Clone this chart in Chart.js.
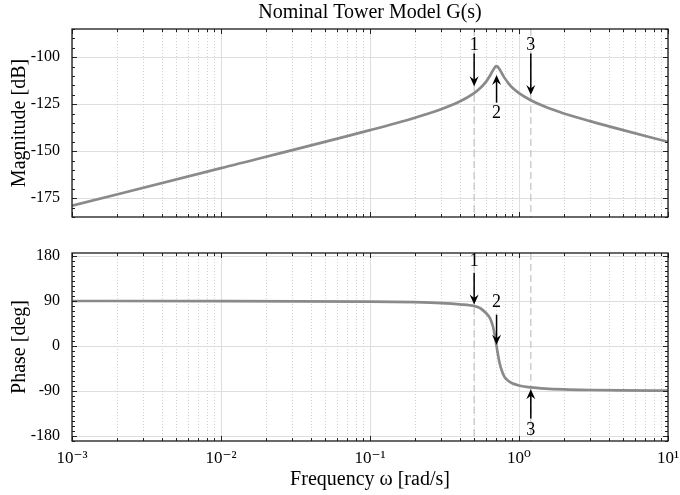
<!DOCTYPE html>
<html><head><meta charset="utf-8">
<script src="https://cdn.jsdelivr.net/npm/chart.js@4.4.1/dist/chart.umd.min.js"></script>
<style>
html,body{margin:0;padding:0;background:#fff;}
#wrap{position:relative;width:680px;height:495px;background:#fff;}
#c1{position:absolute;left:0;top:0;}
#c2{position:absolute;left:0;top:235px;}
</style></head><body>
<div id="wrap"><canvas id="c1" width="680" height="235"></canvas><canvas id="c2" width="680" height="260"></canvas></div>
<script>
// ---- data ----
const omega       = [0.001, 0.01, 0.1, 0.2, 0.3, 0.4, 0.5, 0.55, 0.6, 0.64, 0.67, 0.69, 0.707, 0.72, 0.74, 0.77, 0.8, 0.85, 0.9, 1.0, 1.2, 1.5, 2, 3, 5, 10];
const magnitudeDb = [-179.0, -159.0, -138.8, -132.2, -127.7, -123.6, -119.1, -116.4, -113.1, -109.7, -106.9, -105.3, -104.8, -105.1, -106.4, -108.8, -111.0, -113.9, -116.1, -119.1, -122.9, -126.4, -129.9, -134.0, -138.8, -145.0];
const phaseDeg    = [90.0, 89.9, 88.9, 87.6, 85.9, 83.4, 80.0, 75.5, 66.0, 55.4, 38.0, 19.5, 0.0, -14.7, -33.4, -51.0, -62.0, -70.0, -74.5, -79.0, -82.8, -85.2, -86.8, -88.0, -88.9, -89.4];

const magTicks    = [-175, -150, -125, -100];
const phaseTicks  = [-180, -90, 0, 90, 180];
const xDecades    = [1e-3, 1e-2, 1e-1, 1, 10];
const xTickLabels = ['10⁻³', '10⁻²', '10⁻¹', '10⁰', '10¹'];

const markerLineFreq = [0.5, 1.2];
const arrowFreq      = [0.5, 0.707, 1.2];
const arrowLabels    = ['1', '2', '3'];
const magArrowTail   = [-98.0, -124.2, -98.0];
const magArrowTip    = [-115.4, -109.5, -120.1];
const magLabelAt     = [-93.5, -129.8, -93.5];
const phaseArrowTail = [146.6, 62.7, -145.0];
const phaseArrowTip  = [82.9, 2.4, -86.7];
const phaseLabelAt   = [168.9, 87.3, -168.6];

// ---- styling ----
const FONT = "'Liberation Serif','DejaVu Serif','Times New Roman',serif";
const LINE = '#8a8a8a';
const GRID = '#dedede';

function decadeLabel(v) {
  const i = xDecades.findIndex(d => Math.abs(Math.log10(d) - Math.log10(v)) < 1e-6);
  return i >= 0 ? xTickLabels[i] : '';
}
function minorDecadeValues() {
  const out = [];
  for (let e = -3; e < 1; e++) for (let m = 2; m <= 9; m++) out.push(m * Math.pow(10, e));
  return out;
}
function stepValues(lo, hi, step) {
  const out = [];
  for (let v = Math.ceil(lo / step) * step; v <= hi; v += step) out.push(v);
  return out;
}

const bodePlugin = {
  id: 'bode',
  beforeDatasetsDraw(chart, args, o) {
    const {ctx, chartArea: a, scales: {x}} = chart;
    ctx.save();
    ctx.strokeStyle = '#d2d2d2'; ctx.lineWidth = 1; ctx.setLineDash([1, 2]);
    minorDecadeValues().forEach(v => {
      const px = Math.round(x.getPixelForValue(v)) + 0.5;
      ctx.beginPath(); ctx.moveTo(px, a.top); ctx.lineTo(px, a.bottom); ctx.stroke();
    });
    ctx.strokeStyle = '#c6c6c6'; ctx.lineWidth = 1.3; ctx.setLineDash([7, 4]);
    markerLineFreq.forEach(v => {
      const px = x.getPixelForValue(v);
      ctx.beginPath(); ctx.moveTo(px, a.top); ctx.lineTo(px, a.bottom); ctx.stroke();
    });
    ctx.restore();
  },
  afterDatasetsDraw(chart, args, o) {
    const {ctx, chartArea: a, scales: {x, y}} = chart;
    ctx.save();
    ctx.setLineDash([]);
    ctx.strokeStyle = '#222'; ctx.lineWidth = 1;
    const xt = (v, len) => {
      const px = Math.round(x.getPixelForValue(v)) + 0.5;
      ctx.beginPath(); ctx.moveTo(px, a.top); ctx.lineTo(px, a.top + len);
      ctx.moveTo(px, a.bottom); ctx.lineTo(px, a.bottom - len); ctx.stroke();
    };
    const yt = (v, len) => {
      const py = Math.round(y.getPixelForValue(v)) + 0.5;
      ctx.beginPath(); ctx.moveTo(a.left, py); ctx.lineTo(a.left + len, py);
      ctx.moveTo(a.right, py); ctx.lineTo(a.right - len, py); ctx.stroke();
    };
    minorDecadeValues().forEach(v => xt(v, 3));
    xDecades.forEach(v => xt(v, 5));
    stepValues(y.min, y.max, o.minorStep).forEach(v => yt(v, 3));
    o.majorTicks.forEach(v => yt(v, 5));
    ctx.strokeStyle = '#1a1a1a'; ctx.lineWidth = 1.3;
    ctx.strokeRect(a.left, a.top, a.right - a.left, a.bottom - a.top);
    // arrows with labels
    ctx.strokeStyle = '#000'; ctx.fillStyle = '#000'; ctx.lineWidth = 1.5;
    ctx.font = '18px ' + FONT; ctx.textAlign = 'center'; ctx.textBaseline = 'middle';
    arrowFreq.forEach((f, i) => {
      const px = x.getPixelForValue(f);
      const y0 = y.getPixelForValue(o.tail[i]);
      const y1 = y.getPixelForValue(o.tip[i]);
      const dir = Math.sign(y1 - y0);
      ctx.beginPath(); ctx.moveTo(px, y0); ctx.lineTo(px, y1 - dir * 6); ctx.stroke();
      ctx.beginPath(); ctx.moveTo(px, y1); ctx.lineTo(px - 4.5, y1 - dir * 10);
      ctx.lineTo(px, y1 - dir * 6.5); ctx.lineTo(px + 4.5, y1 - dir * 10); ctx.closePath(); ctx.fill();
      ctx.fillText(arrowLabels[i], px, y.getPixelForValue(o.labelAt[i]));
    });
    ctx.restore();
  }
};

function killPadding(sc) { sc.paddingLeft = 0; sc.paddingRight = 0; sc.paddingTop = 0; sc.paddingBottom = 0; }

function xScale(showLabels, height) {
  const s = {
    type: 'logarithmic', min: 1e-3, max: 10,
    afterBuildTicks: sc => { sc.ticks = xDecades.map(v => ({value: v, major: true})); },
    grid: {color: GRID, lineWidth: 1, drawTicks: false},
    border: {display: false},
    ticks: {display: showLabels, autoSkip: false, maxRotation: 0, minRotation: 0,
            callback: v => decadeLabel(v), font: {family: FONT, size: 17}, color: '#000', padding: 7},
    afterFit: sc => { sc.height = height; killPadding(sc); }
  };
  if (showLabels) {
    s.title = {display: true, text: 'Frequency ω [rad/s]', font: {family: FONT, size: 20}, color: '#000',
               padding: {top: 0, bottom: 3}};
  }
  return s;
}
function yScale(min, max, ticks, label) {
  return {
    type: 'linear', min: min, max: max,
    afterBuildTicks: sc => { sc.ticks = ticks.map(v => ({value: v})); },
    grid: {color: GRID, lineWidth: 1, drawTicks: false},
    border: {display: false},
    ticks: {callback: v => String(v), font: {family: FONT, size: 16}, color: '#000', padding: 12},
    title: {display: true, text: label, font: {family: FONT, size: 20}, color: '#000', padding: {top: 8, bottom: 0}},
    afterFit: sc => { sc.width = 72; killPadding(sc); }
  };
}
function dataset(values) {
  return {
    data: omega.map((w, i) => ({x: w, y: values[i]})),
    borderColor: LINE, borderWidth: 2.7, pointRadius: 0,
    cubicInterpolationMode: 'monotone', fill: false
  };
}

new Chart(document.getElementById('c1'), {
  type: 'line',
  data: {datasets: [dataset(magnitudeDb)]},
  options: {
    responsive: false, animation: false, devicePixelRatio: 1,
    layout: {padding: {left: 0, right: 12, top: 0, bottom: 0}},
    plugins: {
      legend: {display: false}, tooltip: {enabled: false},
      title: {display: true, fullSize: false, text: 'Nominal Tower Model G(s)', font: {family: FONT, size: 20, weight: 'normal'},
              color: '#000', padding: {top: 1, bottom: 4}},
      bode: {minorStep: 5, majorTicks: magTicks, tail: magArrowTail, tip: magArrowTip, labelAt: magLabelAt}
    },
    scales: {x: xScale(false, 18), y: yScale(-185, -85, magTicks, 'Magnitude [dB]')}
  },
  plugins: [bodePlugin]
});

new Chart(document.getElementById('c2'), {
  type: 'line',
  data: {datasets: [dataset(phaseDeg)]},
  options: {
    responsive: false, animation: false, devicePixelRatio: 1,
    layout: {padding: {left: 0, right: 12, top: 18, bottom: 0}},
    plugins: {
      legend: {display: false}, tooltip: {enabled: false},
      bode: {minorStep: 10, majorTicks: phaseTicks, tail: phaseArrowTail, tip: phaseArrowTip, labelAt: phaseLabelAt}
    },
    scales: {x: xScale(true, 54), y: yScale(-190, 186, phaseTicks, 'Phase [deg]')}
  },
  plugins: [bodePlugin]
});
</script>
</body></html>
